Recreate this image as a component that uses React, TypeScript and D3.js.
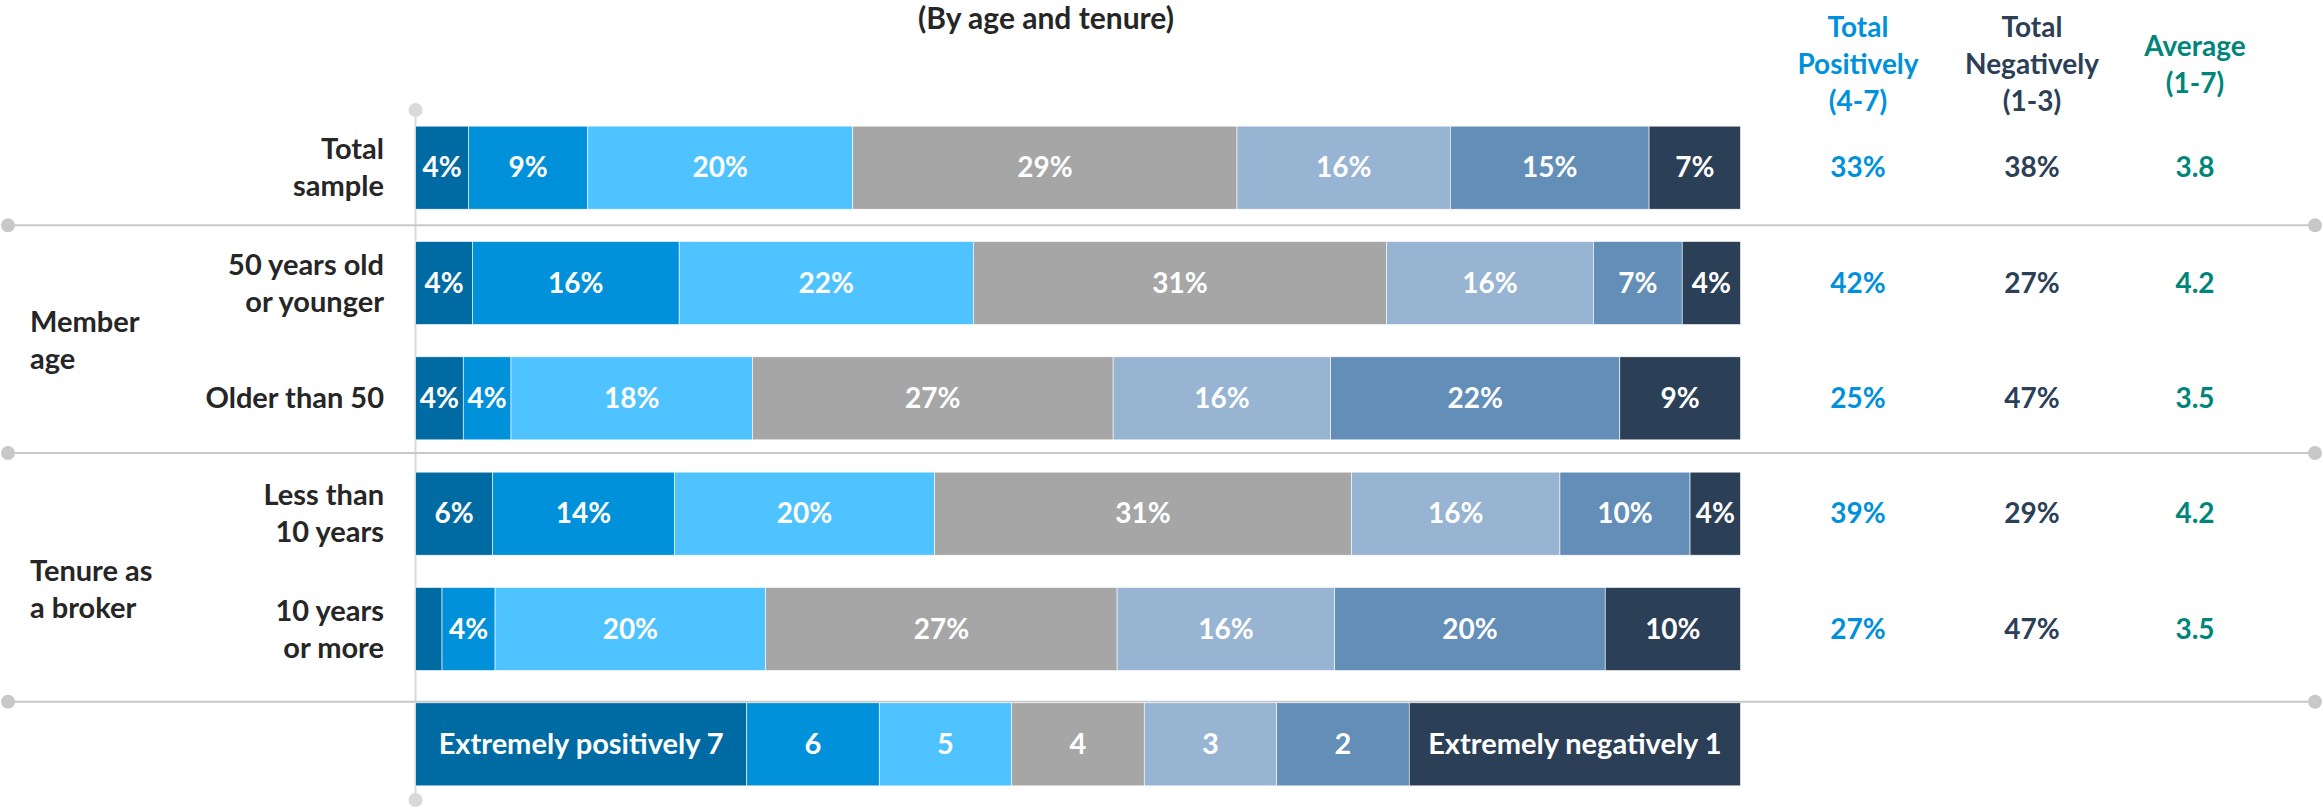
import React from 'react';
import * as d3 from 'd3';

const W = 2323;
const H = 808;

// ---- data ----
const levels = ['7', '6', '5', '4', '3', '2', '1'];
const levelColors = ['#006BA3', '#0091DA', '#4FC3FF', '#A5A6A5', '#97B4D2', '#628EB8', '#2B4057'];
const legendLabels = ['Extremely positively 7', '6', '5', '4', '3', '2', 'Extremely negatively 1'];
const legendWeights = [2.5, 1, 1, 1, 1, 1, 2.5];

const rowKeys = ['total', 'age50under', 'age50over', 'tenureUnder10', 'tenure10plus'];
const rowLabels = [
  ['Total', 'sample'],
  ['50 years old', 'or younger'],
  ['Older than 50'],
  ['Less than', '10 years'],
  ['10 years', 'or more'],
];

const totalSample = [4.0, 9.0, 20.0, 29.0, 16.1, 15.0, 6.9];
const age50OrYounger = [4.3, 15.6, 22.2, 31.2, 15.6, 6.7, 4.4];
const olderThan50 = [3.6, 3.6, 18.2, 27.2, 16.4, 21.8, 9.1];
const tenureLessThan10 = [5.8, 13.7, 19.6, 31.4, 15.7, 9.8, 3.8];
const tenure10OrMore = [2.0, 4.0, 20.4, 26.5, 16.4, 20.4, 10.2];
const rowValues = [totalSample, age50OrYounger, olderThan50, tenureLessThan10, tenure10OrMore];

const totalPositively = [33, 42, 25, 39, 27];
const totalNegatively = [38, 27, 47, 29, 47];
const averageScore = [3.8, 4.2, 3.5, 4.2, 3.5];

const groupLabels = [['Member', 'age'], ['Tenure as', 'a broker']];
const groupRows = [[1, 2], [3, 4]];

const title = '(By age and tenure)';
const headerPos = ['Total', 'Positively', '(4-7)'];
const headerNeg = ['Total', 'Negatively', '(1-3)'];
const headerAvg = ['Average', '(1-7)'];

// ---- styles ----
const FONT = "Lato, 'Open Sans', sans-serif";
const TEXT_DARK = '#262626';
const POS_COLOR = '#0091DA';
const NEG_COLOR = '#2B4057';
const AVG_COLOR = '#00857A';
const LINE_COLOR = '#C8C8C8';
const AXIS_COLOR = '#D9D9D9';

export default function App() {
  const x = d3.scaleLinear().domain([0, 1]).range([415.5, 1740.5]);
  const y = d3
    .scaleBand<string>()
    .domain([...rowKeys, 'legend'])
    .range([110, 802])
    .paddingInner(0.28)
    .paddingOuter(0.14);
  const bw = y.bandwidth();

  const table = rowKeys.map((k, i) => {
    const o: any = { key: k };
    levels.forEach((l, j) => (o[l] = rowValues[i][j]));
    return o;
  });
  const stacked = d3.stack<any>().keys(levels).offset(d3.stackOffsetExpand)(table);

  const legendRow: any = { key: 'legend' };
  levels.forEach((l, j) => (legendRow[l] = legendWeights[j]));
  const legendStack = d3.stack<any>().keys(levels).offset(d3.stackOffsetExpand)([legendRow]);

  const lineHeight = 37;
  const colPos = 1858;
  const colNeg = 2032;
  const colAvg = 2195;

  const gap = y.step() - bw;
  const sepYs = [
    (y(rowKeys[0]) as number) + bw + gap / 2,
    (y(rowKeys[2]) as number) + bw + gap / 2 - 3,
    (y('legend') as number) - 1,
  ];

  const multiLine = (lines: string[], cx: number, cy: number, anchor: string, color: string, size: number, key: string) => {
    const n = lines.length;
    return (
      <text key={key} x={cx} textAnchor={anchor} fill={color} fontSize={size} fontWeight="bold" fontFamily={FONT}>
        {lines.map((ln, i) => (
          <tspan key={i} x={cx} y={cy + (i - (n - 1) / 2) * lineHeight} dy="0.35em">
            {ln}
          </tspan>
        ))}
      </text>
    );
  };

  return (
    <svg width={W} height={H} style={{ position: 'absolute', left: 0, top: 0, background: '#fff' }}>
      {/* title */}
      <text x={1046} y={29} textAnchor="middle" fontSize={30} fontWeight="bold" fontFamily={FONT} fill={TEXT_DARK}>
        {title}
      </text>

      {/* headers */}
      {multiLine(headerPos, colPos, 64, 'middle', POS_COLOR, 28, 'hp')}
      {multiLine(headerNeg, colNeg, 64, 'middle', NEG_COLOR, 28, 'hn')}
      {multiLine(headerAvg, colAvg, 65, 'middle', AVG_COLOR, 28, 'ha')}

      {/* vertical axis */}
      <line x1={x(0)} x2={x(0)} y1={y.range()[0]} y2={y.range()[1]} stroke={AXIS_COLOR} strokeWidth={2} />
      <circle cx={x(0)} cy={y.range()[0]} r={7} fill={AXIS_COLOR} />
      <circle cx={x(0)} cy={y.range()[1] - 2} r={7} fill={AXIS_COLOR} />

      {/* separators */}
      {sepYs.map((sy, i) => (
        <g key={'sep' + i}>
          <line x1={8} x2={2315} y1={sy} y2={sy} stroke={LINE_COLOR} strokeWidth={2} />
          <circle cx={8} cy={sy} r={7} fill={LINE_COLOR} />
          <circle cx={2315} cy={sy} r={7} fill={LINE_COLOR} />
        </g>
      ))}

      {/* bars */}
      {stacked.map((series, si) => (
        <g key={series.key} fill={levelColors[si]}>
          {series.map((d, ri) => (
            <rect
              key={ri}
              x={x(d[0])}
              y={y(rowKeys[ri])}
              width={x(d[1]) - x(d[0])}
              height={bw}
              stroke="#fff"
              strokeWidth={0.6}
            />
          ))}
        </g>
      ))}
      {stacked.map((series, si) =>
        series.map((d, ri) => {
          const v = rowValues[ri][si];
          if (v < 3) return null;
          return (
            <text
              key={series.key + '-' + ri}
              x={(x(d[0]) + x(d[1])) / 2}
              y={(y(rowKeys[ri]) as number) + bw / 2}
              dy="0.35em"
              textAnchor="middle"
              fill="#fff"
              fontSize={28}
              fontWeight="bold"
              fontFamily={FONT}
            >
              {Math.round(v) + '%'}
            </text>
          );
        })
      )}

      {/* legend bar */}
      {legendStack.map((series, si) => {
        const d = series[0];
        return (
          <g key={'lg' + si}>
            <rect
              x={x(d[0])}
              y={y('legend')}
              width={x(d[1]) - x(d[0])}
              height={bw}
              fill={levelColors[si]}
              stroke="#fff"
              strokeWidth={0.6}
            />
            <text
              x={(x(d[0]) + x(d[1])) / 2}
              y={(y('legend') as number) + bw / 2}
              dy="0.35em"
              textAnchor="middle"
              fill="#fff"
              fontSize={29}
              fontWeight="bold"
              fontFamily={FONT}
            >
              {legendLabels[si]}
            </text>
          </g>
        );
      })}

      {/* row labels */}
      {rowKeys.map((k, i) =>
        multiLine(rowLabels[i], 384, (y(k) as number) + bw / 2, 'end', TEXT_DARK, 29, 'rl' + i)
      )}

      {/* group labels */}
      {groupLabels.map((lbl, gi) => {
        const rows = groupRows[gi];
        const top = y(rowKeys[rows[0]]) as number;
        const bottom = (y(rowKeys[rows[rows.length - 1]]) as number) + bw;
        const cy = (top + bottom) / 2 + (gi === 1 ? 18 : 0);
        return multiLine(lbl, 30, cy, 'start', TEXT_DARK, 29, 'gl' + gi);
      })}

      {/* right columns */}
      {rowKeys.map((k, i) => {
        const cy = (y(k) as number) + bw / 2;
        return (
          <g key={'rc' + i} fontSize={28} fontWeight="bold" fontFamily={FONT} textAnchor="middle">
            <text x={colPos} y={cy} dy="0.35em" fill={POS_COLOR}>
              {totalPositively[i] + '%'}
            </text>
            <text x={colNeg} y={cy} dy="0.35em" fill={NEG_COLOR}>
              {totalNegatively[i] + '%'}
            </text>
            <text x={colAvg} y={cy} dy="0.35em" fill={AVG_COLOR}>
              {averageScore[i].toFixed(1)}
            </text>
          </g>
        );
      })}
    </svg>
  );
}
